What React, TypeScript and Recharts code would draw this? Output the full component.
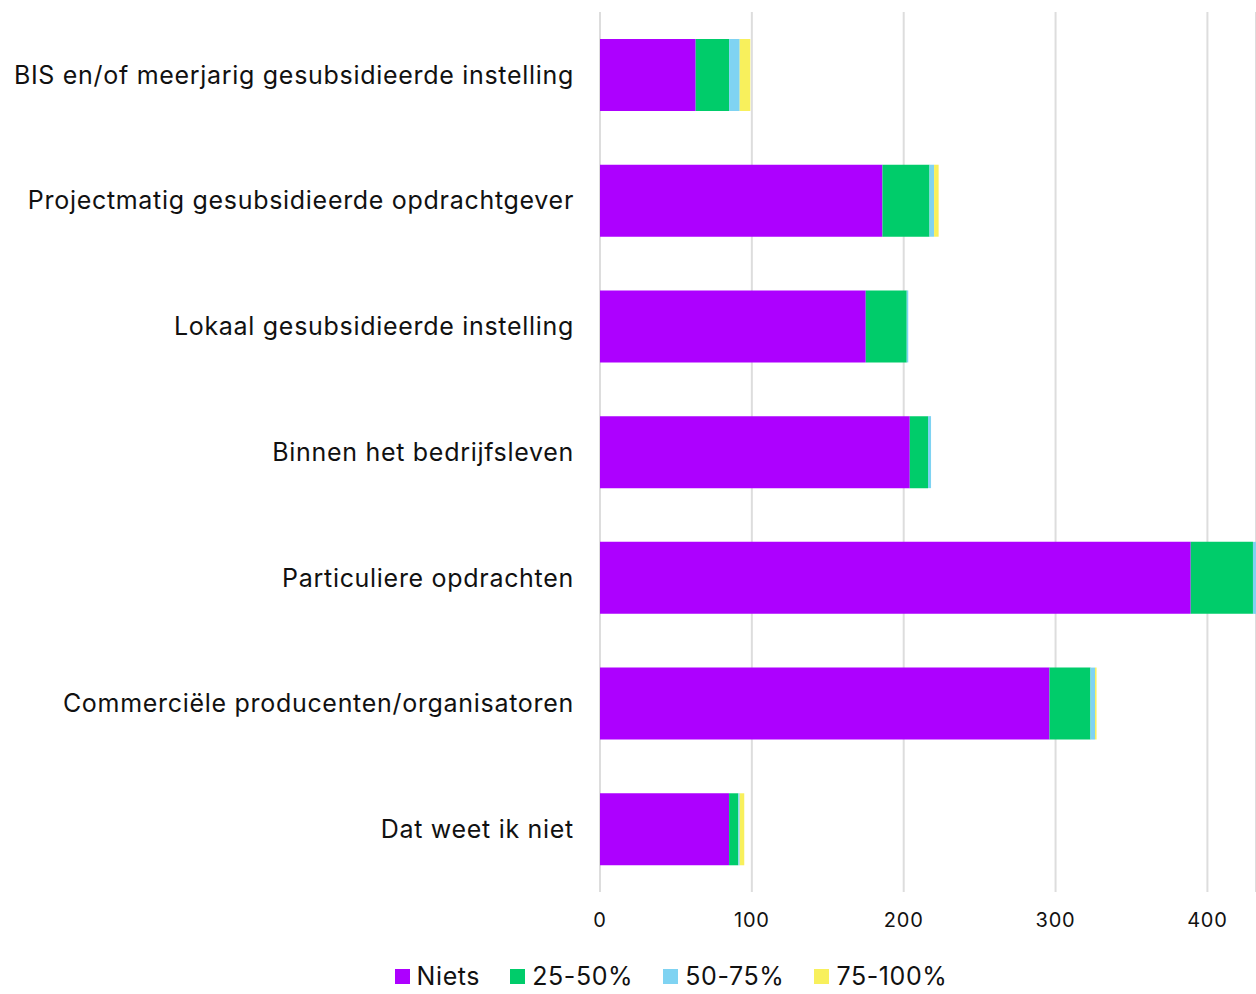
import React from 'react';
import { BarChart, Bar, XAxis, YAxis, CartesianGrid, Legend } from 'recharts';

const categories = [
  'BIS en/of meerjarig gesubsidieerde instelling',
  'Projectmatig gesubsidieerde opdrachtgever',
  'Lokaal gesubsidieerde instelling',
  'Binnen het bedrijfsleven',
  'Particuliere opdrachten',
  'Commerciële producenten/organisatoren',
  'Dat weet ik niet',
];

const niets = [63, 186, 175, 204, 389, 296, 85];
const pct25to50 = [22, 31, 27, 12, 41, 27, 6];
const pct50to75 = [7, 3, 1, 2, 2, 3, 1];
const pct75to100 = [7, 3, 0, 0, 0, 1, 3];

const xTicks = [0, 100, 200, 300, 400];

const series = [
  { key: 'niets', name: 'Niets', color: '#AD00FF' },
  { key: 'p25', name: '25-50%', color: '#00CC6A' },
  { key: 'p50', name: '50-75%', color: '#7FD3F2' },
  { key: 'p75', name: '75-100%', color: '#F8F05C' },
];

const data = categories.map((name, i) => ({
  name,
  niets: niets[i],
  p25: pct25to50[i],
  p50: pct50to75[i],
  p75: pct75to100[i],
}));

const FONT = 'Inter, "Noto Sans", sans-serif';

const LegendContent = () => (
  <div
    style={{
      display: 'flex',
      justifyContent: 'center',
      gap: 30,
      fontFamily: FONT,
      fontSize: 25,
      lineHeight: '28px',
      letterSpacing: 0.6,
      color: '#111',
      paddingTop: 12,
      paddingLeft: 86,
    }}
  >
    {series.map((s) => (
      <div key={s.key} style={{ display: 'flex', alignItems: 'center' }}>
        <span style={{ width: 15, height: 15, background: s.color, display: 'inline-block', marginRight: 7 }} />
        <span>{s.name}</span>
      </div>
    ))}
  </div>
);

const App: React.FC = () => {
  return (
    <div style={{ position: 'absolute', left: 0, top: 0, width: 1256, height: 994, background: '#fff' }}>
      <BarChart
        width={1256}
        height={994}
        data={data}
        layout="vertical"
        margin={{ top: 12, right: 0, bottom: 0, left: 0 }}
        barSize={72}
      >
        <CartesianGrid horizontal={false} stroke="#dddddd" strokeWidth={2} />
        <XAxis
          type="number"
          domain={[0, 432]}
          ticks={xTicks}
          axisLine={false}
          tickLine={false}
          tickSize={0}
          tickMargin={21}
          height={58}
          tick={{ fill: '#111', fontSize: 20, fontFamily: FONT, letterSpacing: 0.8 }}
        />
        <YAxis
          type="category"
          dataKey="name"
          width={600}
          axisLine={false}
          tickLine={false}
          tickSize={0}
          tickMargin={26}
          tick={{ fill: '#111', fontSize: 25, fontFamily: FONT, letterSpacing: 0.7 }}
        />
        <Legend verticalAlign="bottom" height={44} content={<LegendContent />} />
        {series.map((s) => (
          <Bar key={s.key} dataKey={s.key} name={s.name} stackId="a" fill={s.color} isAnimationActive={false} />
        ))}
      </BarChart>
    </div>
  );
};

export default App;
